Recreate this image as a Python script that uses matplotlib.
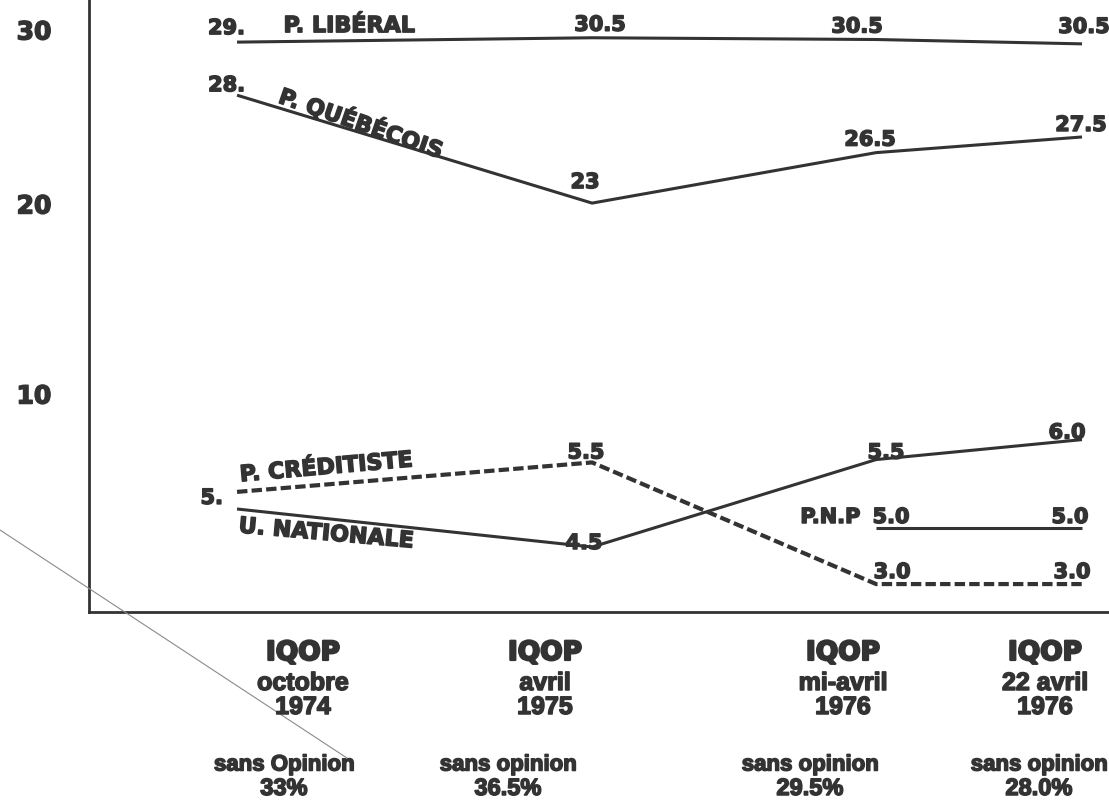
import numpy as np
import matplotlib.pyplot as plt
import matplotlib.patheffects as pe
from matplotlib.lines import Line2D

# sondages IQOP
poll_month = ["octobre", "avril", "mi-avril", "22 avril"]
poll_year = ["1974", "1975", "1976", "1976"]
opinion_txt = ["sans Opinion", "sans opinion", "sans opinion", "sans opinion"]
opinion_pct = ["33%", "36.5%", "29.5%", "28.0%"]

# valeurs imprimees et niveau trace (le graphique n'est pas a l'echelle)
lib_lbl = ["29.", "30.5", "30.5", "30.5"]
lib_lvl = [29.3, 29.55, 29.45, 29.2]
pq_lbl = ["28.", "23", "26.5", "27.5"]
pq_lvl = [26.25, 20.05, 22.95, 23.85]
cred_lbl = ["5.", "5.5", "3.0", "3.0"]
cred_lvl = [4.85, 6.4, 0.0, 0.0]
un_lbl = ["", "4.5", "5.5", "6.0"]
un_lvl = [3.95, 1.95, 6.55, 7.6]
pnp_lbl = ["5.0", "5.0"]
pnp_lvl = [2.95, 2.95]

y_ticks = [10, 20, 30]

# position des sondages sur l'axe horizontal
poll_x = np.array([0, 1, 1.8, 2.38])

ink = "#333333"
W, H = 1109, 801
heavy = [pe.withStroke(linewidth=1.1, foreground=ink)]

# echelle verticale dessinee a la main : graduations pas tout a fait regulieres
kv = [-50, 10, 20, 30, 80]
ku = [-60 * 19, 0, 190, 364, 364 + 50 * 17.4]


def fwd(v):
    return np.interp(v, kv, ku)


def inv(u):
    return np.interp(u, ku, kv)


fig = plt.figure(figsize=(W / 100, H / 100), dpi=100)
fig.patch.set_facecolor("white")
ax = fig.add_axes([89 / W, (H - 612) / H, 1020 / W, 612 / H])
ax.set_yscale("function", functions=(fwd, inv))
ax.set_xlim(-0.417, 2.456)
ax.set_ylim(-1.47, 31.72)

for s in ["top", "right"]:
    ax.spines[s].set_visible(False)
for s in ["left", "bottom"]:
    ax.spines[s].set_linewidth(2.0)
    ax.spines[s].set_color(ink)

ax.set_xticks([])
ax.set_yticks(y_ticks)
ax.set_yticks([], minor=True)
ax.set_yticklabels([str(t) for t in y_ticks], fontsize=18, fontweight="bold",
                   color=ink, family="DejaVu Sans")
for t in ax.get_yticklabels():
    t.set_path_effects(heavy)
ax.tick_params(axis="y", length=0, pad=27)

solid = dict(color=ink, lw=2.2, solid_capstyle="butt")
dash = dict(color=ink, lw=3.0, dashes=(2.5, 1.0), dash_capstyle="butt")

ax.plot(poll_x, lib_lvl, **solid)
ax.plot(poll_x, pq_lvl, **solid)
ax.plot(poll_x, cred_lvl, **dash)
ax.plot(poll_x, un_lvl, **solid)
ax.plot(poll_x[2:], pnp_lvl, **solid)


def lab(x, y, s, dx, dy, size=15, ha="center", rot=0):
    ax.annotate(s, (x, y), xytext=(dx, dy), textcoords="offset pixels",
                ha=ha, va="center", fontsize=size, fontweight="bold",
                color=ink, family="DejaVu Sans", rotation=rot,
                rotation_mode="anchor", path_effects=heavy)


# libellés des valeurs
lib_off = [(8, 14, "right"), (8, 13, "center"), (-19, 13, "center"), (2, 17, "center")]
pq_off = [(8, 10, "right"), (-7, 21, "center"), (-6, 13, "center"), (-1, 12, "center")]
cred_off = [(-14, -6, "right"), (-6, 10, "center"), (16, 12, "center"), (-10, 12, "center")]
un_off = [(0, 0, "center"), (-8, 4, "center"), (10, 7, "center"), (-15, 7, "center")]
pnp_off = [(15, 11, "center"), (-12, 11, "center")]

for lbls, lvls, offs, xs in [(lib_lbl, lib_lvl, lib_off, poll_x),
                             (pq_lbl, pq_lvl, pq_off, poll_x),
                             (cred_lbl, cred_lvl, cred_off, poll_x),
                             (un_lbl, un_lvl, un_off, poll_x),
                             (pnp_lbl, pnp_lvl, pnp_off, poll_x[2:])]:
    for x, y, s, (dx, dy, ha) in zip(xs, lvls, lbls, offs):
        if s:
            lab(x, y, s, dx, dy, ha=ha)

# noms des partis
lab(poll_x[0], lib_lvl[0], "P. LIBÉRAL", 112, 16, size=16)
lab(poll_x[0], pq_lvl[0], "P. QUÉBÉCOIS", 124, -28, size=16, rot=-19)
lab(poll_x[0], cred_lvl[0], "P. CRÉDITISTE", 89, 24, size=16, rot=5)
lab(poll_x[0], un_lvl[0], "U. NATIONALE", 89, -25, size=16, rot=-5)
lab(poll_x[2], pnp_lvl[0], "P.N.P", -16, 11, ha="right")

# bas du graphique : sondages
narrow = ["DejaVu Sans Condensed", "Liberation Sans"]
col_x = [303, 545, 843, 1045]
pct_x = [284, 508, 810, 1039]
for i in range(4):
    fx = col_x[i] / W
    fig.text(fx, 1 - 653 / H, "IQOP", ha="center", va="center", fontsize=19,
             fontweight="bold", color=ink, family="DejaVu Sans",
             path_effects=[pe.withStroke(linewidth=1.6, foreground=ink)])
    fig.text(fx, 1 - 683 / H, poll_month[i], ha="center", va="center",
             fontsize=18, fontweight="bold", color=ink, family=narrow,
             path_effects=heavy)
    fig.text(fx, 1 - 707 / H, poll_year[i], ha="center", va="center",
             fontsize=18, fontweight="bold", color=ink, family=narrow,
             path_effects=heavy)
    fig.text(pct_x[i] / W, 1 - 765 / H, opinion_txt[i], ha="center", va="center",
             fontsize=16, fontweight="bold", color=ink, family=narrow,
             path_effects=heavy)
    fig.text(pct_x[i] / W, 1 - 777 / H, opinion_pct[i], ha="center", va="top",
             fontsize=17, fontweight="bold", color=ink, family=narrow,
             path_effects=heavy)

# trait fin en diagonale (papier)
fig.add_artist(Line2D([0, 350 / W], [1 - 530 / H, 1 - 760 / H],
                      transform=fig.transFigure, color="#8a8a8a", lw=0.8))

fig.savefig("out.png", dpi=100, facecolor="white")
